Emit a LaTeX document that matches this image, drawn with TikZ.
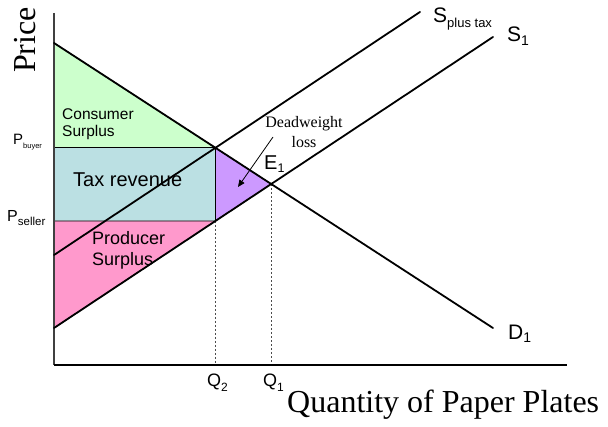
\documentclass[tikz,border=0pt]{standalone}
\usepackage{fontspec}
\setmainfont{Liberation Sans}
\newfontfamily\seriffont{Liberation Serif}
\usetikzlibrary{intersections,arrows.meta}
\definecolor{csgreen}{RGB}{204,255,204}
\definecolor{taxblue}{RGB}{187,224,227}
\definecolor{pspink}{RGB}{255,153,204}
\definecolor{dwpurple}{RGB}{204,153,255}
\newcommand{\fs}[1]{\fontsize{#1}{#1}\selectfont}
\newcommand{\lowsub}[3]{\raisebox{-#1pt}{\fs{#2}#3}}
\tikzset{
  curve/.style={line width=1.8pt, line cap=round},
  area/.style={draw=black, line width=0.8pt, line join=miter},
  guide/.style={draw=black!70, line width=0.9pt, dash pattern=on 2pt off 2pt},
  lbl/.style={inner sep=0pt, anchor=base west},
}
\begin{document}
\begin{tikzpicture}[x=1pt,y=-1pt]
\useasboundingbox (0,0) rectangle (608,427);
% key points
\coordinate (O) at (54,365);
\coordinate (Ytop) at (54,13);
\coordinate (Xend) at (567,365);
\coordinate (D0) at (54,43);
\coordinate (D1e) at (493,328);
\coordinate (S0) at (54,328);
\coordinate (S1e) at (493,37);
\coordinate (T0) at (54,255);
\coordinate (T1e) at (420,12);
\path[name path=dem] (D0) -- (D1e);
\path[name path=sone] (S0) -- (S1e);
\path[name path=stx] (T0) -- (T1e);
\path[name intersections={of=dem and stx, by=X}];
\path[name intersections={of=dem and sone, by=E}];
\coordinate (Xb) at (X |- O);
\path[name path=vq] (X) -- (Xb);
\path[name intersections={of=vq and sone, by=Ps}];
\coordinate (Pb) at (X -| O);
\coordinate (Pl) at (Ps -| O);
\coordinate (Eb) at (E |- O);
% areas
\filldraw[area, fill=csgreen] (D0) -- (X) -- (Pb) -- cycle;
\filldraw[area, fill=taxblue] (Pb) -- (X) -- (Ps) -- (Pl) -- cycle;
\filldraw[area, fill=pspink] (Pl) -- (Ps) -- (S0) -- cycle;
\filldraw[area, fill=dwpurple] (X) -- (E) -- (Ps) -- cycle;
% guides
\draw[guide] (Ps) -- (Xb);
\draw[guide] (E) -- (Eb);
% axes
\draw[line width=1.3pt, black!75] (Ytop) -- (O);
\draw[line width=1.8pt] (O) -- (Xend);
% curves
\draw[curve] (D0) -- (D1e);
\draw[curve] (S0) -- (S1e);
\draw[curve] (T0) -- (T1e);
% area labels
\node[lbl, font=\fs{15.5}] (cs1) at (62,120) {Consumer};
\node[lbl, font=\fs{15.5}] (cs2) at (62,137) {Surplus};
\node[lbl, font=\fs{20}] (tax) at (73,187) {Tax revenue};
\node[lbl, font=\fs{18}] (ps1) at (92,245) {Producer};
\node[lbl, font=\fs{18}] (ps2) at (92,266) {Surplus};
% deadweight
\node[inner sep=0pt, anchor=base, font=\seriffont\fs{16}] (dw1) at (304,128) {Deadweight};
\node[inner sep=0pt, anchor=base, font=\seriffont\fs{16}] (dw2) at (304,148) {loss};
\coordinate (arS) at (273,137);
\coordinate (arE) at (238,187);
\draw[line width=0.8pt, -{Triangle[length=7pt,width=6pt]}] (arS) -- (arE);
% curve labels
\node[lbl, font=\fs{20}] (e1) at (264,170) {E\lowsub{3}{12.5}{1}};
\node[lbl, font=\fs{21}] (stax) at (433,23) {S\lowsub{5}{13}{plus tax}};
\node[lbl, font=\fs{21}] (s1) at (507,42) {S\lowsub{4}{14}{1}};
\node[lbl, font=\fs{21}] (d1) at (508,340) {D\lowsub{3}{14}{1}};
% price labels
\node[lbl, font=\fs{15}] (pbuy) at (13,145) {P\lowsub{4}{7.5}{buyer}};
\node[lbl, font=\fs{16}] (psel) at (7,222) {P\lowsub{4}{11.5}{seller}};
% quantity labels
\node[lbl, font=\fs{18}] (q2) at (207,387) {Q\lowsub{5}{12}{2}};
\node[lbl, font=\fs{18}] (q1) at (263,387) {Q\lowsub{5}{12}{1}};
% axis titles
\node[inner sep=0pt, anchor=base, rotate=90, font=\seriffont\fs{32}] (price) at (35,40) {Price};
\node[lbl, font=\seriffont\fs{32}] (qty) at (287,413) {Quantity of Paper Plates};
\end{tikzpicture}
\end{document}
